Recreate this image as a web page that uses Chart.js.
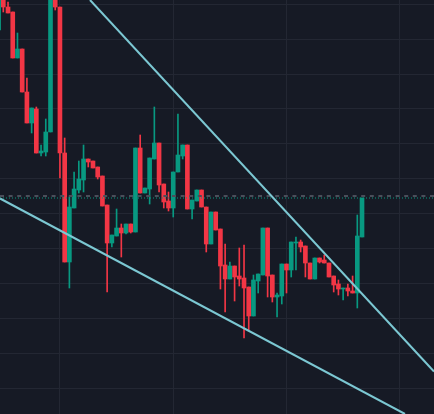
<!DOCTYPE html>
<html>
<head>
<meta charset="utf-8">
<script src="https://cdn.jsdelivr.net/npm/chart.js@4/dist/chart.umd.min.js"></script>
<style>
  html, body { margin: 0; padding: 0; background: #161a25; }
  #wrap { width: 434px; height: 414px; background: #161a25; }
</style>
</head>
<body>
<div id="wrap"><canvas id="c" width="434" height="414"></canvas></div>
<script>
// ---- data (bar index, prices) ----
const opens  = [384,416,407,402,356,365,322,291,305,261,262,282,419,407,261,152,206,224,234,255,253,247,238,209,171,178,186,181,190,182,266,221,225,255,271,230,213,206,242,258,269,205,213,224,207,170,202,185,149,135,148,138,136,127,98,133,139,186,139,117,118,150,144,171,172,168,151,135,156,154,151,138,130,125,126,123,121,177];
const highs  = [425,418,412,402,381,365,336,306,307,269,295,430,424,407,276,217,242,253,269,255,253,247,238,209,179,205,190,190,190,266,279,226,256,307,271,230,222,242,300,269,269,214,224,224,207,202,202,185,170,152,148,166,169,127,139,140,186,186,139,121,150,150,172,177,174,168,151,156,156,159,151,138,134,126,130,138,199,216];
const lows   = [384,402,401,356,356,322,291,281,261,258,258,282,404,236,152,126,206,221,222,247,246,235,208,122,167,178,157,180,181,182,221,221,210,255,222,206,203,197,242,255,205,195,213,207,162,170,184,125,102,135,113,128,76,84,98,121,139,117,112,97,110,121,137,144,162,137,135,135,151,151,137,122,119,114,118,121,106,177];
const closes = [420,407,401,356,365,322,291,306,261,263,282,424,407,261,152,207,225,235,255,252,246,237,208,171,179,186,181,190,182,266,221,226,256,271,229,212,206,242,259,269,205,214,224,207,170,202,184,148,135,148,137,135,126,98,134,140,186,138,117,119,150,144,172,172,167,151,135,156,152,151,137,129,125,126,123,121,178,216];

const timeTicks  = [13, 37, 61, 85];
const priceTicks = [25.8, 60.7, 95.6, 130.5, 165.4, 200.3, 235.2, 270.1, 305, 339.9, 374.8, 409.7];

const upperTrend = [{x: 19.37, y: 414}, {x: 92.25, y: 42.5}];
const lowerTrend = [{x: 0.3, y: 215.5}, {x: 86.1, y: 0}];
const alertLevel = 218;

const xMin = 0.3, xMax = 92.25, yMin = 0, yMax = 414;

const UP = '#089981', DOWN = '#f23645';
const colors = closes.map((c, i) => c >= opens[i] ? UP : DOWN);
const bodies = closes.map((c, i) => ({x: i, y: [opens[i], c]}));
const wicks  = closes.map((c, i) => ({x: i, y: [lows[i], highs[i]]}));
const lastClose = closes[closes.length - 1];

const bg = {
  id: 'bg',
  beforeDraw(chart) {
    const ctx = chart.ctx;
    ctx.save();
    ctx.fillStyle = '#161a25';
    ctx.fillRect(0, 0, chart.width, chart.height);
    ctx.restore();
  }
};

new Chart(document.getElementById('c'), {
  type: 'bar',
  data: {
    datasets: [
      { type: 'bar', data: wicks, backgroundColor: colors, barThickness: 1, grouped: false, order: 5, borderWidth: 0 },
      { type: 'bar', data: bodies, backgroundColor: colors, barThickness: 4, grouped: false, order: 4, borderWidth: 0, minBarLength: 1 },
      { type: 'line', data: [{x: xMin, y: alertLevel}, {x: xMax, y: alertLevel}], borderColor: '#4a4e5a', borderWidth: 2, borderDash: [4, 4.6], pointRadius: 0, order: 3 },
      { type: 'line', data: [{x: xMin, y: lastClose}, {x: xMax, y: lastClose}], borderColor: '#089981', borderWidth: 1, borderDash: [1, 2], pointRadius: 0, order: 2 },
      { type: 'line', data: upperTrend, borderColor: '#7cc8d3', borderWidth: 2, pointRadius: 0, tension: 0, order: 1 },
      { type: 'line', data: lowerTrend, borderColor: '#7cc8d3', borderWidth: 2, pointRadius: 0, tension: 0, order: 1 }
    ]
  },
  options: {
    responsive: false,
    animation: false,
    layout: { padding: 0 },
    plugins: { legend: { display: false }, tooltip: { enabled: false } },
    scales: {
      x: {
        type: 'linear', min: xMin, max: xMax, offset: false,
        afterBuildTicks: (axis) => { axis.ticks = timeTicks.map(v => ({value: v})); },
        ticks: { display: false },
        grid: { color: '#232733', lineWidth: 1, drawTicks: false, offset: false },
        border: { display: false }
      },
      y: {
        type: 'linear', min: yMin, max: yMax,
        afterBuildTicks: (axis) => { axis.ticks = priceTicks.map(v => ({value: v})); },
        ticks: { display: false },
        grid: { color: '#232733', lineWidth: 1, drawTicks: false },
        border: { display: false }
      }
    }
  },
  plugins: [bg]
});
</script>
</body>
</html>
